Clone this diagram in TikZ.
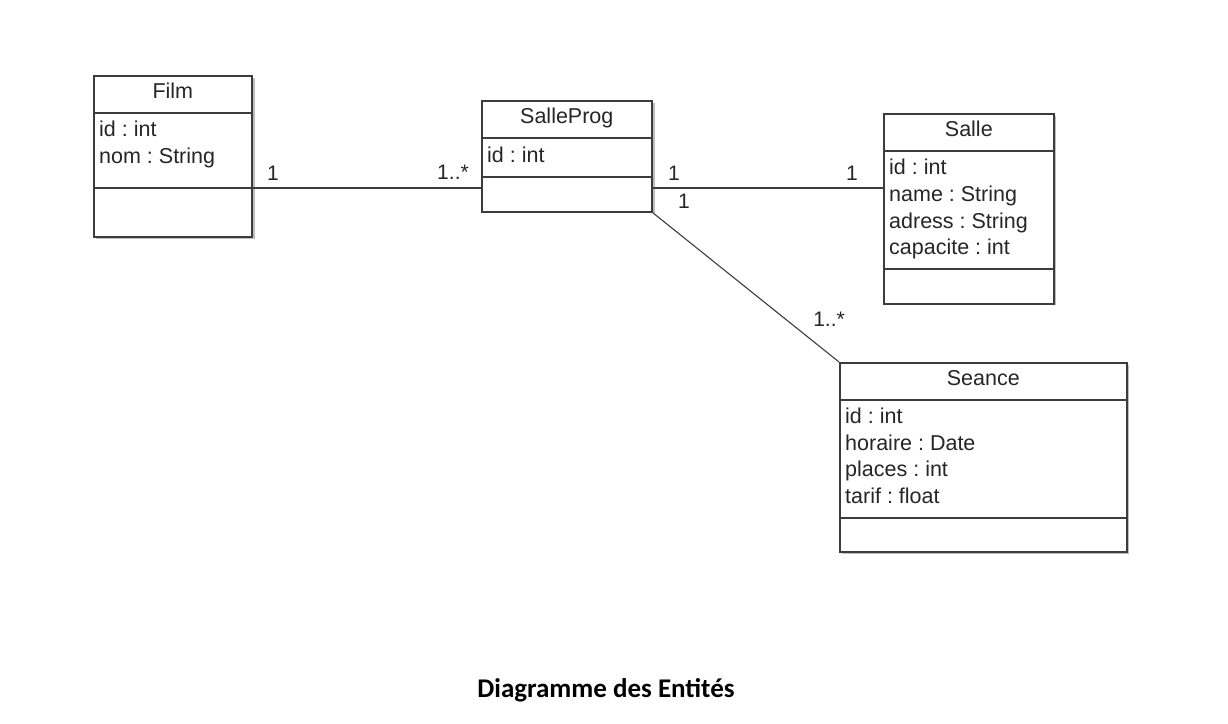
\documentclass[tikz,border=0pt]{standalone}
\usepackage{fontspec}
\setmainfont{Liberation Sans}
\newfontfamily\captionfont{Carlito}
\usepackage{tikz}
\usetikzlibrary{positioning, calc}
\definecolor{umlline}{RGB}{60, 60, 60}
\definecolor{umlshadow}{RGB}{190, 190, 190}
\frenchspacing

\tikzset{
  umlbox/.style={draw=umlline, line width=1.6pt, fill=white, anchor=north west, inner sep=0pt},
  umlshade/.style={fill=umlshadow},
  divider/.style={draw=umlline, line width=1.4pt},
  attr/.style={font=\fontsize{21.5}{26}\selectfont, text=black!85, anchor=base west, inner sep=0pt},
  title/.style={font=\fontsize{21.5}{26}\selectfont, text=black!85, anchor=base, inner sep=0pt},
  mult/.style={font=\fontsize{21}{26}\selectfont, text=black!85, inner sep=0pt},
  assoc/.style={draw=umlline, line width=1.1pt}
}

\begin{document}
\begin{tikzpicture}[x=1pt, y=-1pt]
  \useasboundingbox (0,0) rectangle (1228,723);

  % Shadows
  \fill[umlshade] (96,78) rectangle (255,239);
  \fill[umlshade] (484,103) rectangle (655,213);
  \fill[umlshade] (886,116) rectangle (1056,305);
  \fill[umlshade] (842,365) rectangle (1129,554);

  % Classes
  \node[umlbox, minimum width=158pt, minimum height=161pt] (film) at (93,75) {};
  \node[umlbox, minimum width=170pt, minimum height=111pt] (prog) at (481,100) {};
  \node[umlbox, minimum width=170pt, minimum height=190pt] (salle) at (883,113) {};
  \node[umlbox, minimum width=287pt, minimum height=189pt] (seance) at (839,362) {};

  % Compartments
  \draw[divider] (film.west |- 0,113) -- (film.east |- 0,113);
  \draw[divider] (film.west |- 0,188) -- (film.east |- 0,188);
  \draw[divider] (prog.west |- 0,138) -- (prog.east |- 0,138);
  \draw[divider] (prog.west |- 0,177) -- (prog.east |- 0,177);
  \draw[divider] (salle.west |- 0,151) -- (salle.east |- 0,151);
  \draw[divider] (salle.west |- 0,269) -- (salle.east |- 0,269);
  \draw[divider] (seance.west |- 0,400) -- (seance.east |- 0,400);
  \draw[divider] (seance.west |- 0,518) -- (seance.east |- 0,518);

  % Names
  \node[title] (filmname) at (film.north |- 0,98) {Film};
  \node[title] (progname) at (prog.north |- 0,123) {SalleProg};
  \node[title] (sallename) at (salle.north |- 0,136) {Salle};
  \node[title] (seancename) at (seance.north |- 0,385) {Seance};

  % Attributes
  \foreach \txt/\y in {id : int/136, nom : String/163}
    \node[attr] at (99,\y) {\txt};
  \node[attr] at (487,162) {id : int};
  \foreach \txt/\y in {id : int/174, name : String/201, adress : String/228, capacite : int/254}
    \node[attr] at (889,\y) {\txt};
  \foreach \txt/\y in {id : int/423, horaire : Date/450, places : int/476, tarif : float/503}
    \node[attr] at (845,\y) {\txt};

  % Associations
  \draw[assoc] (film.east |- 0,188) -- (prog.west |- 0,188);
  \draw[assoc] (prog.east |- 0,188) -- (salle.west |- 0,188);
  \draw[assoc] (prog.south east) -- (seance.north west);

  % Multiplicities
  \node[mult] (m1) at (273,173) {1};
  \node[mult] (m2) at (453,172) {1..*};
  \node[mult] (m3) at (674,173) {1};
  \node[mult] (m4) at (852,173) {1};
  \node[mult] (m5) at (684,201) {1};
  \node[mult] (m6) at (829,319) {1..*};

  % Caption
  \node[font=\captionfont\bfseries\fontsize{27}{32}\selectfont] (caption) at (606,690) {Diagramme des Entités};
\end{tikzpicture}
\end{document}
